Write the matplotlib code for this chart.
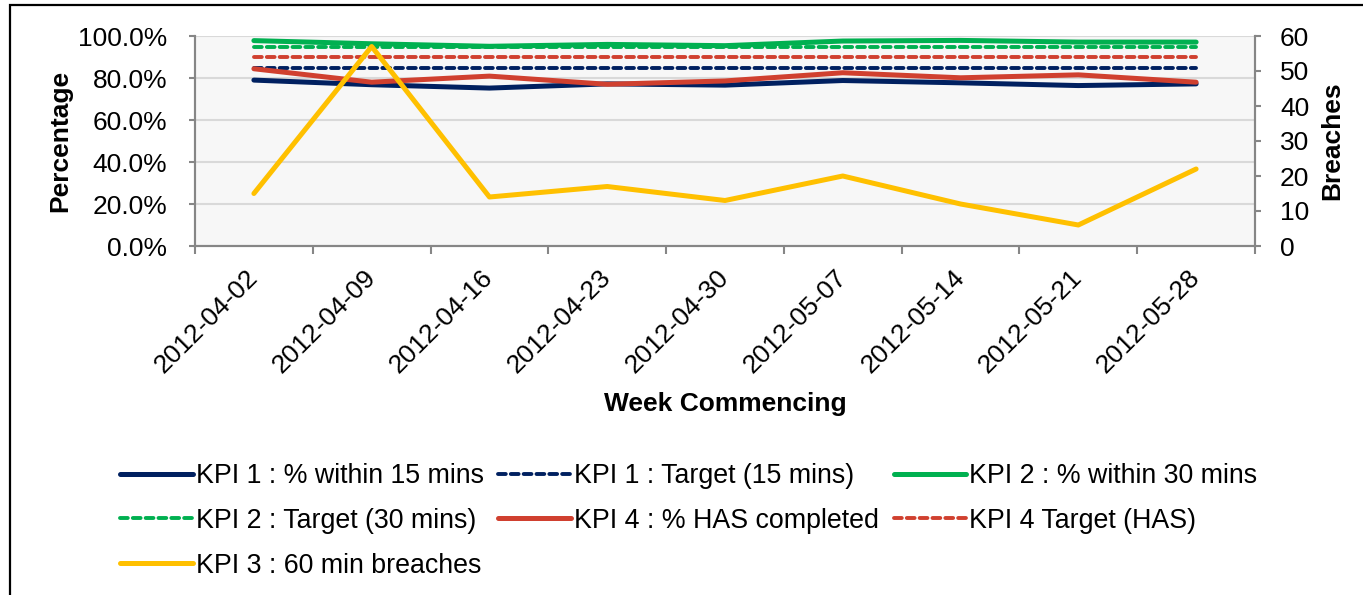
import matplotlib
matplotlib.use("Agg")
import matplotlib.pyplot as plt
from matplotlib.ticker import PercentFormatter, FixedLocator, NullFormatter
from matplotlib.patches import Rectangle

weeks = ["2012-04-02", "2012-04-09", "2012-04-16", "2012-04-23", "2012-04-30",
         "2012-05-07", "2012-05-14", "2012-05-21", "2012-05-28"]
kpi1 = [79.0, 76.8, 75.2, 77.2, 76.6, 78.8, 77.7, 76.4, 77.2]
kpi1_target = [85, 85, 85, 85, 85, 85, 85, 85, 85]
kpi2 = [97.8, 96.3, 95.1, 96.0, 95.4, 97.6, 97.9, 97.1, 97.1]
kpi2_target = [95, 95, 95, 95, 95, 95, 95, 95, 95]
kpi4 = [84.4, 78.0, 80.9, 77.0, 78.6, 82.5, 80.1, 81.5, 78.0]
kpi4_target = [90, 90, 90, 90, 90, 90, 90, 90, 90]
breaches = [15, 57, 14, 17, 13, 20, 12, 6, 22]

NAVY = "#002060"
GREEN = "#00B050"
RED = "#D0402F"
YELLOW = "#FFC000"
AXIS = "#868686"

plt.rcParams.update({
    "font.family": ["Liberation Sans", "DejaVu Sans"],
    "font.size": 19,
})

W, H = 1363, 595
fig = plt.figure(figsize=(W / 100, H / 100), dpi=100)
ax = fig.add_axes([195 / W, 1 - 246 / H, (1255 - 195) / W, (246 - 36) / H])
ax2 = ax.twinx()

x = list(range(len(weeks)))
solid = dict(lw=3.6, solid_capstyle="round", solid_joinstyle="round")
dash = dict(lw=2.8, dashes=(2.0, 1.3), dash_capstyle="round")

h1, = ax.plot(x, kpi1, color=NAVY, label="KPI 1 : % within 15 mins", **solid)
h1t, = ax.plot(x, kpi1_target, color=NAVY, label="KPI 1 : Target (15 mins)", **dash)
h2, = ax.plot(x, kpi2, color=GREEN, label="KPI 2 : % within 30 mins", **solid)
h2t, = ax.plot(x, kpi2_target, color=GREEN, label="KPI 2 : Target (30 mins)", **dash)
h4, = ax.plot(x, kpi4, color=RED, label="KPI 4 : % HAS completed", **solid)
h4t, = ax.plot(x, kpi4_target, color=RED, label="KPI 4 Target (HAS)", **dash)
h3, = ax2.plot(x, breaches, color=YELLOW, label="KPI 3 : 60 min breaches", **solid)

ax.set_facecolor("#F7F7F7")
ax.set_xlim(-0.5, len(weeks) - 0.5)
ax.set_ylim(0, 100)
ax.set_yticks([0, 20, 40, 60, 80, 100])
ax.yaxis.set_major_formatter(PercentFormatter(decimals=1))
ax.grid(True, axis="y", color="#D9D9D9", lw=1.5)
ax.set_axisbelow(True)

ax2.set_ylim(0, 60)
ax2.set_yticks(range(0, 61, 10))

ax.set_xticks(x)
ax.set_xticklabels(weeks, rotation=45, ha="right", va="center", rotation_mode="anchor")
ax.tick_params(axis="x", which="major", length=0, pad=20)
ax.xaxis.set_minor_locator(FixedLocator([i - 0.5 for i in range(len(weeks) + 1)]))
ax.xaxis.set_minor_formatter(NullFormatter())
ax.tick_params(axis="x", which="minor", length=6, width=1.5, color=AXIS, direction="out")
ax.tick_params(axis="y", length=4, width=1.5, color=AXIS, pad=16)
ax2.tick_params(axis="y", length=4, width=1.5, color=AXIS, pad=14)

for a in (ax, ax2):
    a.spines["top"].set_visible(False)
    for s in ("left", "right", "bottom"):
        a.spines[s].set_color(AXIS)
        a.spines[s].set_linewidth(1.5)

ax.set_ylabel("Percentage", fontweight="bold")
ax.yaxis.set_label_coords(-(195 - 72) / (1255 - 195), 0.5)
ax2.set_ylabel("Breaches", fontweight="bold", rotation=90)
ax2.yaxis.set_label_coords(1 + (1320 - 1255) / (1255 - 195), 0.5)

fig.text(725 / W, 1 - 404 / H, "Week Commencing", fontweight="bold", ha="center", va="center")

handles = [h1, h2t, h3, h1t, h4, h2, h4t]
fig.legend(handles=handles, labels=[h.get_label() for h in handles],
           loc="upper left", bbox_to_anchor=(120 / W, 1 - 463 / H), ncol=3,
           frameon=False, borderpad=0, borderaxespad=0, fontsize=19.3,
           handlelength=2.72, handletextpad=0.1, columnspacing=0.55, labelspacing=0.7)

fig.patches.append(Rectangle((9.5 / W, -0.1), 1.2, 1 - 5 / H + 0.1, transform=fig.transFigure,
                             fill=False, edgecolor="black", lw=1.6, figure=fig))

fig.savefig("out.png", dpi=100)
